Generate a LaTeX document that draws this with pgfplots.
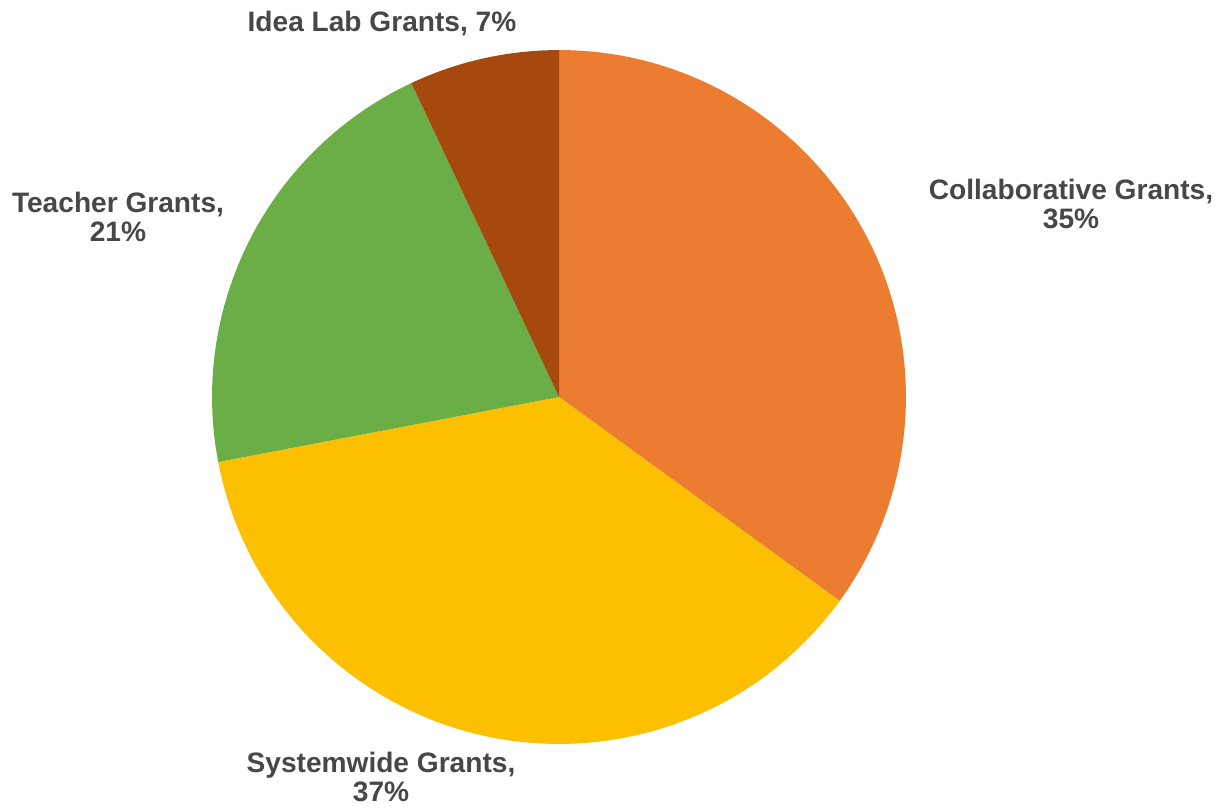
\documentclass[border=0pt]{standalone}
\usepackage{pgfplots}
\pgfplotsset{compat=1.18}
\usepackage{fontspec}
\setmainfont{Liberation Sans}

\definecolor{collab}{HTML}{EC7C30}
\definecolor{systemw}{HTML}{FDC000}
\definecolor{teacher}{HTML}{6AAE45}
\definecolor{idealab}{HTML}{A6490F}
\definecolor{labelgray}{HTML}{474747}

% shares in percent, clockwise from 12 o'clock
\def\pCollab{35}
\def\pSystem{37}
\def\pTeacher{21}
\def\pIdea{7}
\pgfmathsetmacro\aA{90}
\pgfmathsetmacro\aB{\aA-3.6*\pCollab}
\pgfmathsetmacro\aC{\aB-3.6*\pSystem}
\pgfmathsetmacro\aD{\aC-3.6*\pTeacher}
\pgfmathsetmacro\aE{\aD-3.6*\pIdea}
\def\R{6.94cm}

\begin{document}
\begin{tikzpicture}[lbl/.style={font=\bfseries\fontsize{16}{16.5}\selectfont, text=labelgray, align=center}]
\begin{axis}[
    x=0.02cm, y=0.02cm,
    xmin=0, xmax=1227, ymin=0, ymax=804,
    hide axis, clip=false,
]
\path (axis cs:0,0) rectangle (axis cs:1227,804);
\fill[collab]  (axis cs:559,407) -- ++(\aA:\R) arc[start angle=\aA, end angle=\aB, radius=\R] -- cycle;
\fill[systemw] (axis cs:559,407) -- ++(\aB:\R) arc[start angle=\aB, end angle=\aC, radius=\R] -- cycle;
\fill[teacher] (axis cs:559,407) -- ++(\aC:\R) arc[start angle=\aC, end angle=\aD, radius=\R] -- cycle;
\fill[idealab] (axis cs:559,407) -- ++(\aD:\R) arc[start angle=\aD, end angle=\aE, radius=\R] -- cycle;

\node[lbl] at (axis cs:382,781) {Idea Lab Grants, \pIdea\%};
\node[lbl] at (axis cs:1071,600) {Collaborative Grants,\\\pCollab\%};
\node[lbl] at (axis cs:118,587) {Teacher Grants,\\\pTeacher\%};
\node[lbl] at (axis cs:381,27) {Systemwide Grants,\\\pSystem\%};
\end{axis}
\end{tikzpicture}
\end{document}
